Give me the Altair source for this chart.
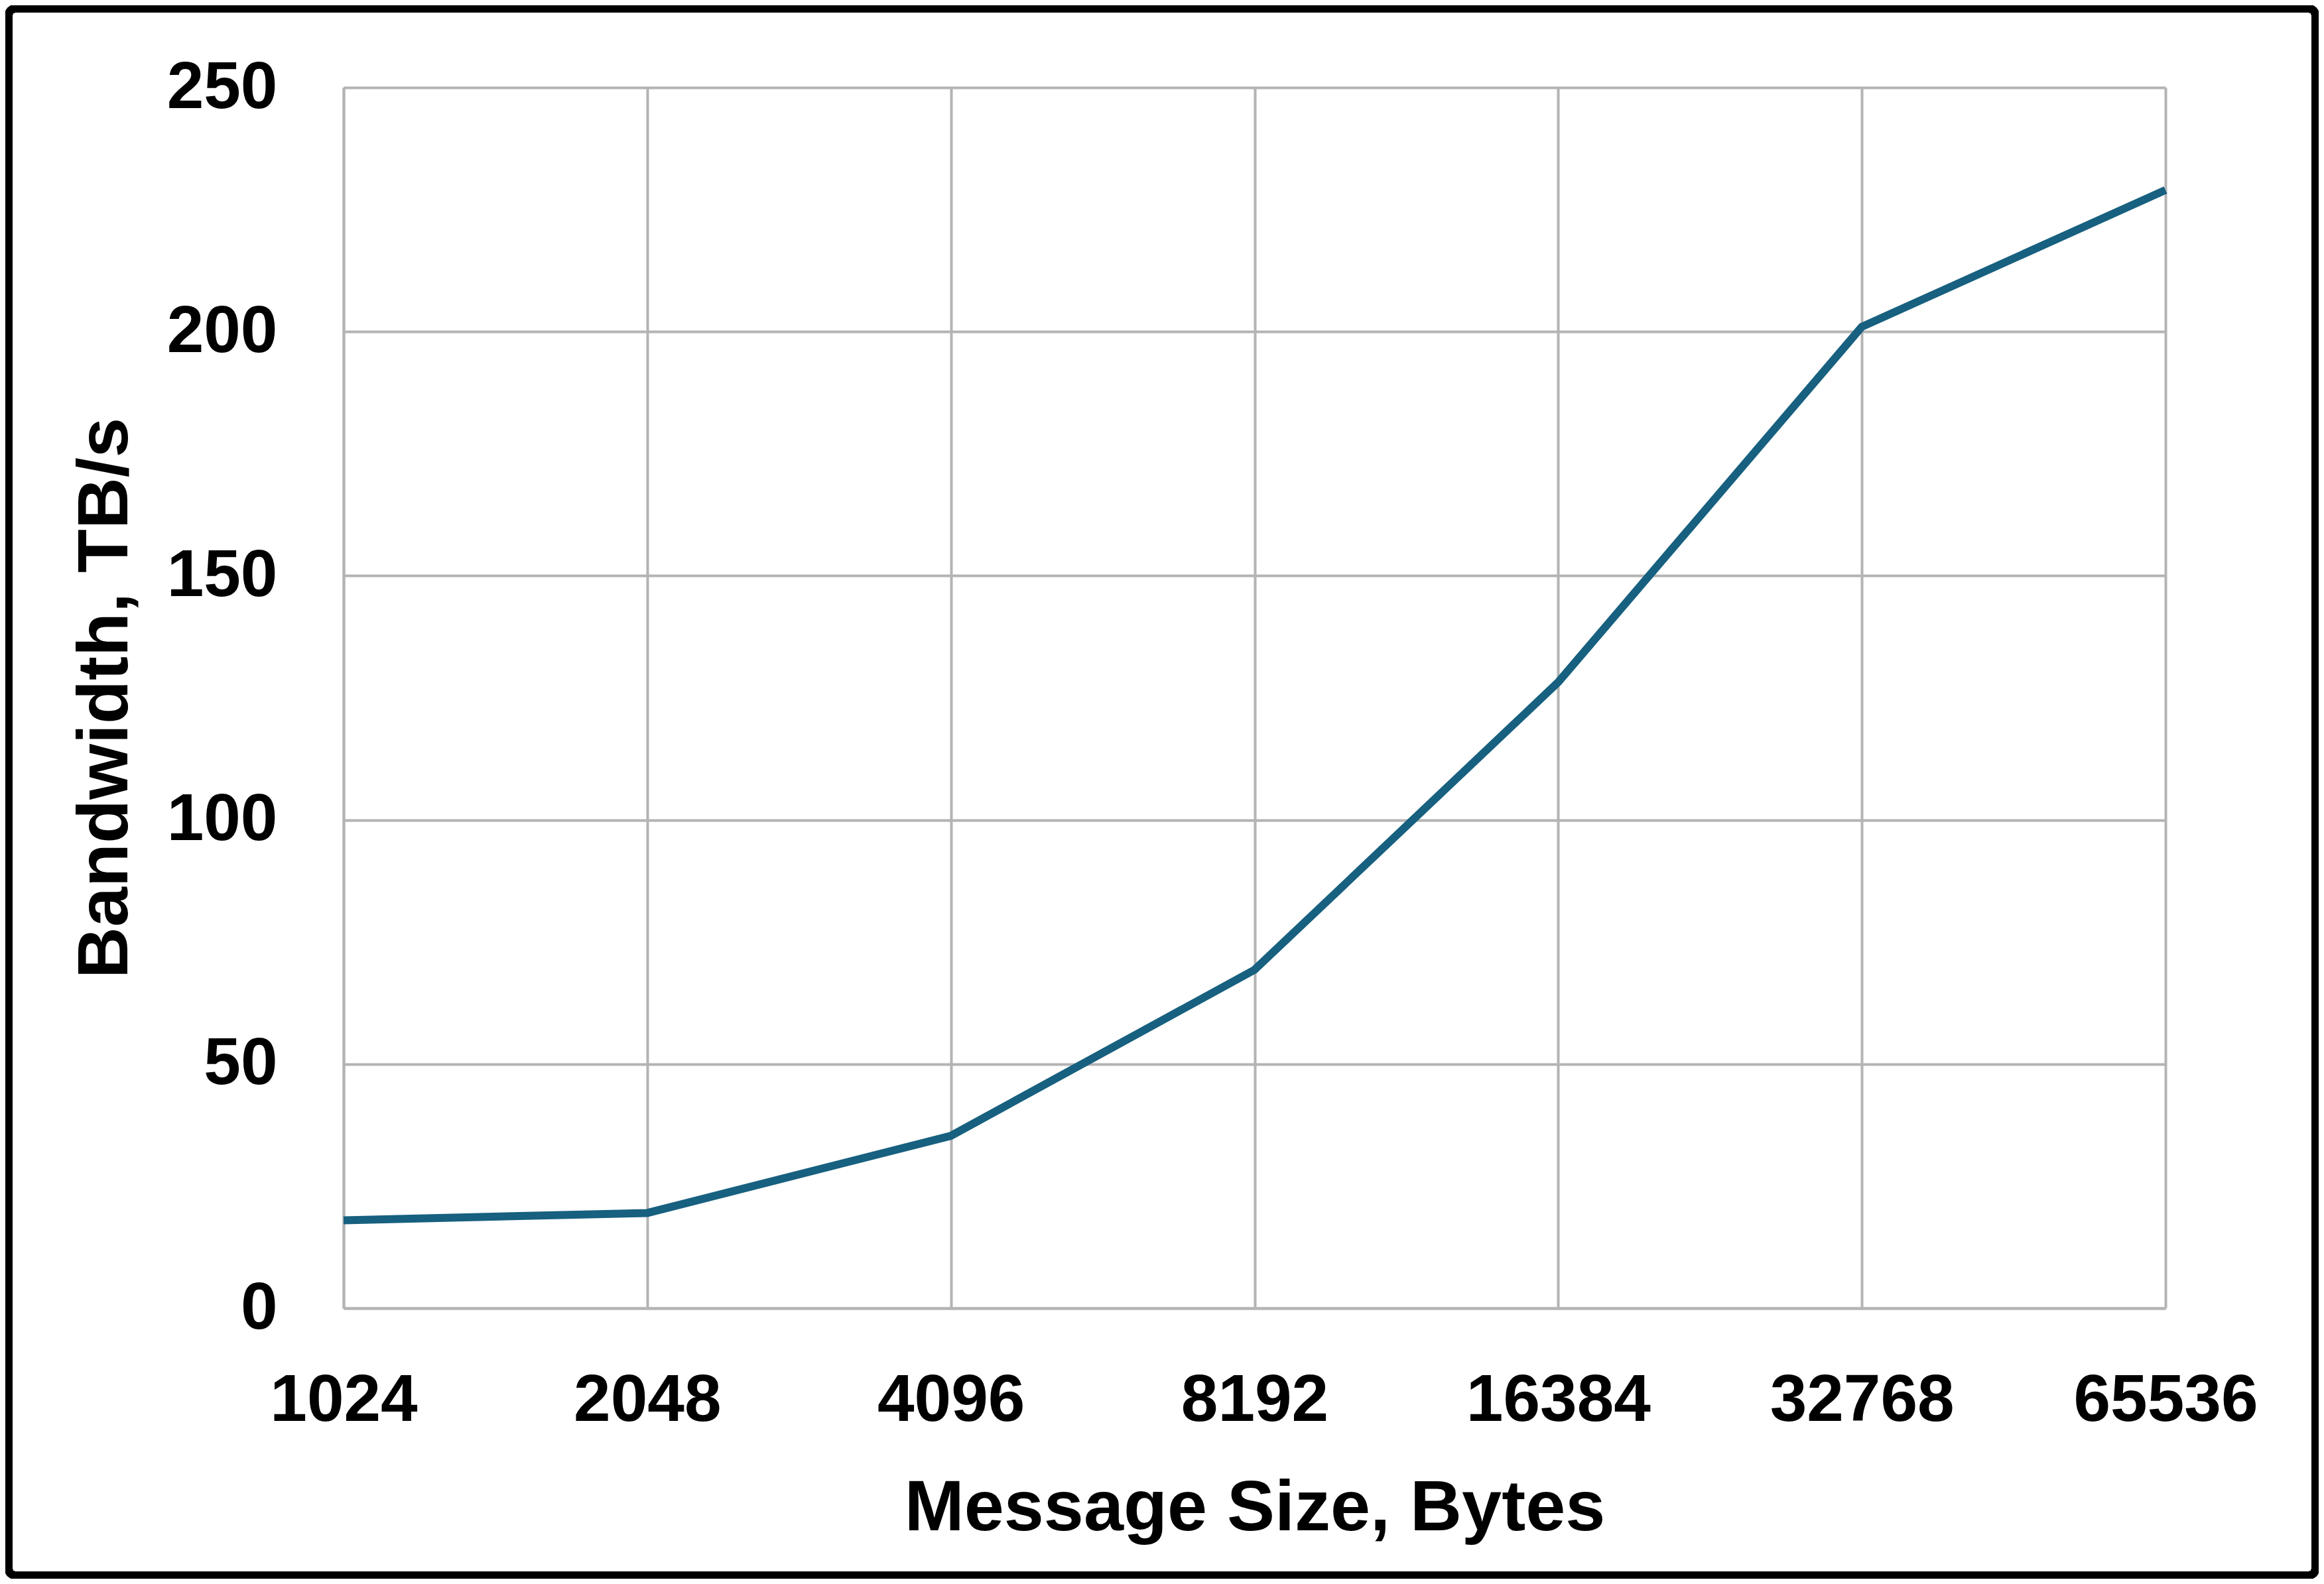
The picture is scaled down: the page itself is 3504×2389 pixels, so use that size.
import altair as alt
import pandas as pd

sizes = ["1024", "2048", "4096", "8192", "16384", "32768", "65536"]
bandwidth = [18.0, 19.5, 35.3, 69.3, 128.2, 201.0, 229.0]
y_ticks = [0, 50, 100, 150, 200, 250]

df = pd.DataFrame({"size": sizes, "bw": bandwidth})

W, H = 2747, 1841
PAD_L, PAD_T, PAD_R, PAD_B = 510, 124, 231, 408
FONT = "Liberation Sans Narrow, Liberation Sans, Arial, sans-serif"

line = alt.Chart(df).mark_line(color="#17607f", strokeWidth=12).encode(
    x=alt.X(
        "size:O",
        sort=sizes,
        scale=alt.Scale(type="point", padding=0),
        axis=alt.Axis(
            title="Message Size, Bytes",
            labelAngle=0,
            labelPadding=90,
            labelLimit=0,
            titlePadding=60,
            ticks=False,
            grid=True,
        ),
    ),
    y=alt.Y(
        "bw:Q",
        scale=alt.Scale(domain=[0, 250], nice=False),
        axis=alt.Axis(
            title="Bandwidth, TB/s",
            values=y_ticks,
            labelPadding=100,
            labelLimit=0,
            titlePadding=104,
            ticks=False,
            grid=True,
        ),
    ),
)

frame = alt.Chart(df).mark_rect(
    fill=None, stroke="black", strokeWidth=12, cornerRadius=10, clip=False
).encode(
    x=alt.value(-505),
    x2=alt.value(2973),
    y=alt.value(-119),
    y2=alt.value(2244),
)

chart = (
    alt.layer(line, frame)
    .properties(
        width=W,
        height=H,
        autosize=alt.AutoSizeParams(type="none"),
        padding={"left": PAD_L, "top": PAD_T, "right": PAD_R, "bottom": PAD_B},
        background="white",
    )
    .configure_view(stroke=None)
    .configure_axis(
        gridColor="#b4b4b4",
        gridWidth=4,
        domainColor="#b4b4b4",
        domainWidth=4,
        labelFont=FONT,
        labelFontSize=100,
        labelFontWeight="bold",
        labelColor="black",
        titleFont=FONT,
        titleFontSize=108,
        titleFontWeight="bold",
        titleColor="black",
    )
)

chart.save("out.html", embed_options={"renderer": "svg", "actions": False})
